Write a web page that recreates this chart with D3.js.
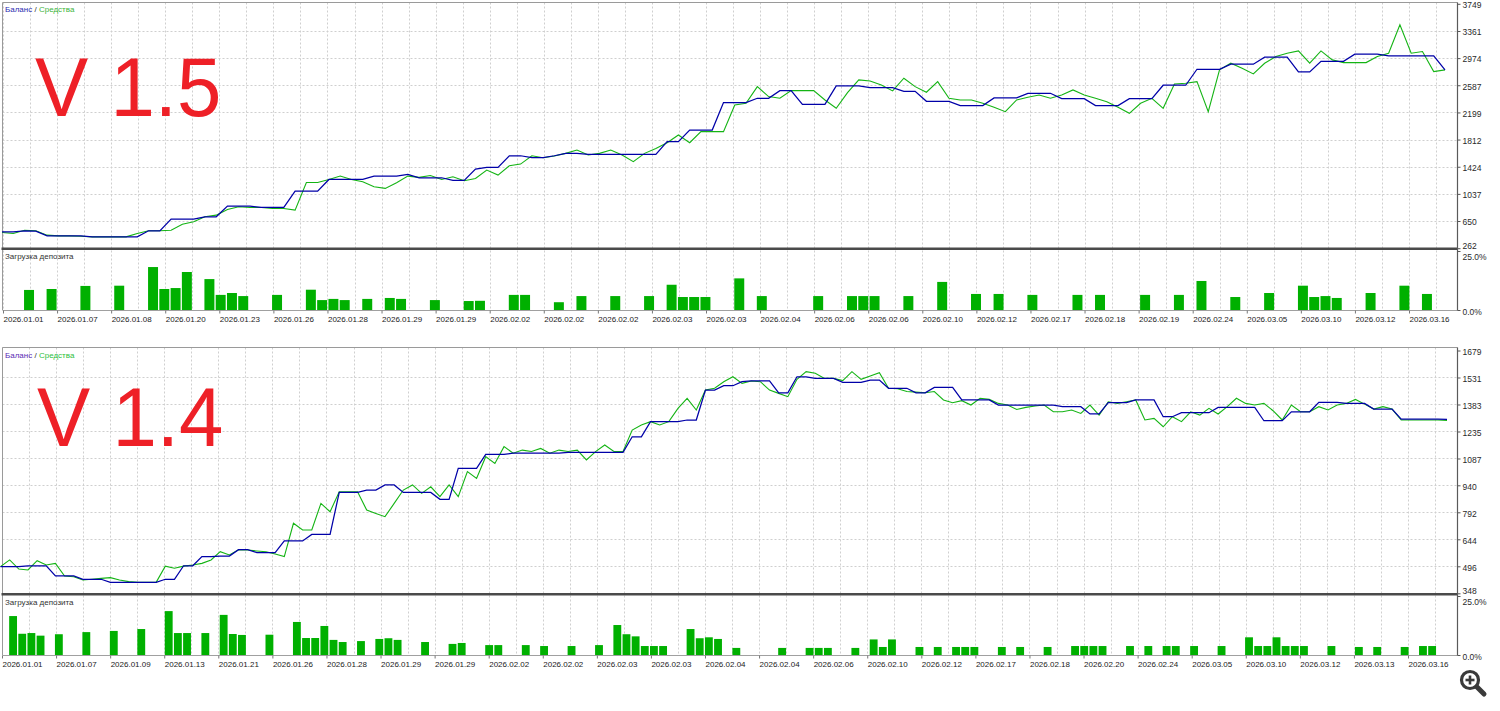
<!DOCTYPE html>
<html><head><meta charset="utf-8">
<script src="https://cdn.jsdelivr.net/npm/d3@7"></script>
<style>
body{margin:0;background:#fff;}
svg{display:block;}
text{font-family:"Liberation Sans",Arial,sans-serif;}
</style>
</head><body>
<svg id="c" width="1500" height="711"></svg>
<script>
// ---------------- DATA ----------------
const topXLabels = ["2026.01.01","2026.01.07","2026.01.08","2026.01.20","2026.01.23","2026.01.26","2026.01.28","2026.01.29","2026.01.29","2026.02.02","2026.02.02","2026.02.02","2026.02.03","2026.02.03","2026.02.04","2026.02.06","2026.02.06","2026.02.10","2026.02.12","2026.02.17","2026.02.18","2026.02.19","2026.02.24","2026.03.05","2026.03.10","2026.03.12","2026.03.16"];
const topYTicks = [262,650,1037,1424,1812,2199,2587,2974,3361,3749];
const topBalance = [
495,495,510,505,438,438,438,438,424,424,
424,424,424,510,510,676,676,676,710,710,
862,862,862,843,843,843,1077,1077,1077,1243,
1243,1243,1243,1291,1291,1291,1315,1267,1267,1267,
1229,1229,1391,1415,1415,1581,1581,1553,1553,1581,
1615,1615,1600,1600,1600,1600,1600,1600,1600,1782,
1782,1948,1948,1948,2339,2339,2339,2401,2401,2510,
2510,2315,2315,2315,2577,2577,2577,2553,2553,2553,
2501,2501,2358,2358,2358,2296,2296,2296,2406,2406,
2406,2472,2472,2472,2396,2396,2396,2296,2296,2296,
2396,2396,2396,2587,2587,2587,2815,2815,2815,2887,
2887,2887,2987,2987,2987,2777,2777,2929,2929,2929,
3030,3030,3030,3006,3006,3006,3006,3006,2806];
const topEquity = [
486,472,519,510,448,438,438,433,424,424,
424,424,472,510,510,519,605,638,710,734,
815,853,843,843,829,829,805,1200,1200,1243,
1291,1243,1210,1138,1115,1196,1291,1272,1300,1243,
1281,1224,1257,1377,1305,1439,1462,1581,1553,1577,
1615,1662,1591,1615,1662,1591,1496,1615,1686,1767,
1877,1767,1925,1925,1925,2305,2329,2567,2425,2401,
2510,2510,2510,2377,2258,2482,2663,2648,2591,2506,
2687,2567,2487,2639,2401,2377,2377,2329,2272,2210,
2377,2415,2448,2401,2448,2520,2448,2401,2353,2272,
2186,2329,2401,2258,2606,2615,2639,2210,2806,2901,
2829,2749,2901,2996,3044,3077,2901,3077,2949,2910,
2910,2910,2996,3044,3449,3044,3068,2782,2806];
const topLoadIdx = [2,4,7,10,13,14,15,16,18,19,20,21,24,27,28,29,30,32,34,35,38,41,42,
45,46,49,51,54,57,59,60,61,62,65,67,72,75,76,77,80,83,86,88,
91,95,97,101,104,106,109,112,115,116,117,118,121,124,126];
const topLoadVal = [8.5,8.9,10.2,10.3,18.2,8.9,9.3,16.1,13.1,6.4,7.2,5.9,6.4,8.6,4.2,4.7,4.2,4.7,5.1,4.7,4.2,3.8,3.9,
6.4,6.4,3.3,5.9,5.9,5.9,10.7,5.5,5.5,5.5,13.4,5.9,5.9,5.9,5.9,5.9,5.9,11.9,6.8,6.8,
6.4,6.4,6.4,6.4,6.4,12.3,5.5,7.2,10.3,5.5,5.9,5.1,7.2,10.3,6.8];

const botXLabels = ["2026.01.01","2026.01.07","2026.01.09","2026.01.13","2026.01.21","2026.01.26","2026.01.28","2026.01.29","2026.01.29","2026.02.02","2026.02.02","2026.02.03","2026.02.03","2026.02.04","2026.02.04","2026.02.06","2026.02.10","2026.02.12","2026.02.17","2026.02.18","2026.02.20","2026.02.24","2026.03.05","2026.03.10","2026.03.12","2026.03.13","2026.03.16"];
const botYTicks = [348,496,644,792,940,1087,1235,1383,1531,1679];
const botBalance = [
494,494,494,499,499,499,443,443,443,425,
425,425,408,408,408,408,408,408,425,425,
499,499,549,549,552,552,587,587,571,571,
571,635,635,635,671,671,671,901,901,901,
914,914,942,942,901,901,901,901,863,863,
1033,1033,1033,1110,1110,1110,1116,1116,1116,1116,
1116,1116,1121,1121,1121,1121,1121,1121,1121,1206,
1206,1289,1289,1289,1289,1298,1298,1462,1462,1486,
1486,1508,1512,1512,1512,1447,1447,1535,1535,1526,
1526,1526,1504,1504,1504,1517,1517,1472,1472,1472,
1447,1447,1477,1477,1477,1408,1408,1408,1408,1380,
1380,1380,1380,1380,1380,1380,1371,1371,1371,1331,
1331,1393,1393,1393,1408,1408,1408,1316,1316,1338,
1338,1338,1338,1367,1367,1367,1367,1367,1294,1294,
1294,1343,1343,1343,1395,1395,1395,1389,1389,1389,
1358,1358,1358,1303,1303,1303,1303,1303,1302];
const botEquity = [
494,531,481,476,527,503,512,443,439,421,
425,430,434,421,412,408,408,408,497,485,
497,503,512,531,576,558,587,585,580,576,
563,549,732,695,695,841,795,905,905,905,
804,786,768,841,914,942,896,932,878,942,
878,1015,978,1097,1060,1152,1116,1133,1125,1142,
1116,1133,1125,1133,1079,1125,1161,1125,1125,1243,
1271,1289,1271,1289,1362,1417,1353,1462,1472,1508,
1535,1499,1512,1508,1462,1444,1426,1521,1563,1554,
1526,1526,1514,1563,1521,1539,1557,1472,1469,1454,
1451,1447,1454,1408,1393,1404,1380,1417,1411,1389,
1380,1356,1367,1375,1380,1343,1343,1353,1334,1380,
1325,1398,1389,1398,1408,1298,1307,1261,1316,1289,
1343,1325,1362,1331,1371,1417,1389,1380,1389,1349,
1298,1380,1343,1343,1371,1353,1380,1389,1411,1385,
1358,1371,1358,1298,1298,1298,1298,1298,1296];
const botLoadIdx = [1,2,3,4,6,9,12,15,18,19,20,22,24,25,26,29,32,33,34,35,36,37,39,41,42,43,46,49,50,53,54,
57,59,62,65,67,68,69,70,71,72,75,76,77,78,80,85,88,89,90,93,95,96,97,100,102,104,105,106,109,
111,114,117,118,119,120,123,125,127,128,130,133,136,137,138,139,140,141,142,145,148,150,153,155,156];
const botLoadVal = [16.5,9.0,9.3,8.2,8.8,9.7,10.2,11.0,18.6,9.3,9.3,9.3,17.0,8.9,8.5,8.6,14.0,7.2,7.2,12.3,6.4,5.5,5.9,6.8,7.1,6.4,5.5,4.7,5.1,4.2,4.2,
4.2,3.8,3.8,4.2,12.7,8.8,7.9,3.8,3.8,3.8,11.0,7.1,7.5,6.8,3.0,3.0,3.0,3.0,3.0,3.0,6.6,3.4,6.6,3.4,3.4,3.4,3.4,3.4,3.4,
3.4,3.4,3.8,3.8,3.8,3.8,3.8,3.8,3.8,3.8,3.8,3.8,7.5,3.8,3.8,7.5,3.8,3.8,3.8,3.8,3.4,3.4,3.4,3.8,3.8];

const loadTicks = [0, 25];
const legendBalance = "Баланс";
const legendEquity = "Средства";
const loadTitle = "Загрузка депозита";

// ---------------- LAYOUT ----------------
const panels = [
  {title:"V 1.5", titleX:35, titleY:116, legendY:12, legendBal:"#2b2bb0", legendEq:"#3cb43c",
   frameTop:2.5, yTop:3.8, yBot:248.2, sepY:248.8, subBot:310, loadTop:251, subLabelY:259, xLabelY:320,
   xRange:[2,1445], labelRange:[3,1409],
   labels:topXLabels, yTicks:topYTicks, bal:topBalance, eq:topEquity, lIdx:topLoadIdx, lVal:topLoadVal},
  {title:"V 1.4", titleX:37, titleY:446, legendY:357.5, legendBal:"#5a2ab4", legendEq:"#2cc03c",
   frameTop:347.5, yTop:350.5, yBot:593.3, sepY:594.3, subBot:655, loadTop:596, subLabelY:605, xLabelY:665,
   xRange:[0.5,1447], labelRange:[2,1408],
   labels:botXLabels, yTicks:botYTicks, bal:botBalance, eq:botEquity, lIdx:botLoadIdx, lVal:botLoadVal}
];
const LEFT = 2.5, RIGHT = 1457.5;

const svg = d3.select("#c");

panels.forEach(p => {
  const g = svg.append("g");
  const n = p.bal.length;
  const x = d3.scaleLinear().domain([0, n-1]).range(p.xRange);
  const y = d3.scaleLinear().domain([p.yTicks[0], p.yTicks[p.yTicks.length-1]]).range([p.yBot, p.yTop]);
  const ly = d3.scaleLinear().domain([0,25]).range([p.subBot, p.loadTop]);
  const lx = d3.scalePoint().domain(d3.range(p.labels.length)).range(p.labelRange);
  const step = x(1) - x(0);

  // vertical grid (ticks + midpoints)
  const half = lx.step()/2;
  const vg = [];
  lx.domain().forEach(k => { vg.push(lx(k)); if (lx(k)+half < RIGHT-2) vg.push(lx(k)+half); });
  g.append("g").selectAll("line").data(vg).join("line")
    .attr("x1", d=>Math.round(d)+0.5).attr("x2", d=>Math.round(d)+0.5)
    .attr("y1", p.frameTop).attr("y2", p.subBot)
    .attr("stroke","#cfcfcf").attr("stroke-dasharray","2,2").attr("stroke-width",1);

  // horizontal grid
  g.append("g").selectAll("line").data(p.yTicks.slice(1, -1)).join("line")
    .attr("x1", LEFT).attr("x2", RIGHT)
    .attr("y1", d=>Math.round(y(d))+0.5).attr("y2", d=>Math.round(y(d))+0.5)
    .attr("stroke","#cfcfcf").attr("stroke-dasharray","2,2").attr("stroke-width",1);

  // frame
  g.append("line").attr("x1",LEFT).attr("x2",RIGHT).attr("y1",p.frameTop).attr("y2",p.frameTop).attr("stroke","#9a9a9a");
  g.append("line").attr("x1",LEFT).attr("x2",LEFT).attr("y1",p.frameTop).attr("y2",p.subBot).attr("stroke","#9a9a9a");
  g.append("line").attr("x1",LEFT).attr("x2",RIGHT).attr("y1",p.subBot+0.5).attr("y2",p.subBot+0.5).attr("stroke","#a0a0a0");

  // title
  g.append("text").attr("transform",`translate(${p.titleX},${p.titleY}) scale(0.95,1)`).text(p.title)
    .attr("font-size",84).attr("fill","#ee2027");

  // lines
  const line = d3.line().x((d,i)=>x(i)).y(d=>y(d));
  g.append("path").datum(p.eq).attr("d",line).attr("fill","none").attr("stroke","#14b414").attr("stroke-width",1.1);
  g.append("path").datum(p.bal).attr("d",line).attr("fill","none").attr("stroke","#0000a8").attr("stroke-width",1.25);

  // separator
  g.append("line").attr("x1",LEFT-1).attr("x2",RIGHT).attr("y1",p.sepY).attr("y2",p.sepY)
    .attr("stroke","#4a4a4a").attr("stroke-width",2.6);

  // load bars
  const bars = p.lIdx.map((j,k)=>({j, v:p.lVal[k]}));
  g.append("g").selectAll("rect").data(bars).join("rect")
    .attr("x", d=>x(d.j)-0.5).attr("width", step-1.3)
    .attr("y", d=>ly(d.v)).attr("height", d=>ly(0)-ly(d.v))
    .attr("fill","#00b000");

  // right axes
  const minTick = p.yTicks[0];
  const ya = g.append("g").attr("transform",`translate(${RIGHT},0)`)
    .call(d3.axisRight(y).tickValues(p.yTicks).tickSize(3).tickPadding(2).tickFormat(d3.format("d")));
  ya.select(".domain").remove();
  ya.selectAll("line").attr("stroke","#555");
  ya.selectAll("text").attr("font-size",8.5).attr("fill","#2a2a2a").attr("font-family","Liberation Sans, Arial, sans-serif")
    .attr("dy", d => d===minTick ? "0.05em" : "0.45em");

  const la = g.append("g").attr("transform",`translate(${RIGHT},0)`)
    .call(d3.axisRight(ly).tickValues(loadTicks).tickSize(3).tickPadding(2).tickFormat(d=>d.toFixed(1)+"%"));
  la.select(".domain").remove();
  la.selectAll("line").attr("stroke","#555");
  la.selectAll("text").attr("font-size",8.5).attr("fill","#2a2a2a").attr("font-family","Liberation Sans, Arial, sans-serif")
    .attr("dy", d => d===25 ? "0.98em" : "0.5em");

  g.append("line").attr("x1",RIGHT).attr("x2",RIGHT).attr("y1",p.frameTop).attr("y2",p.subBot+0.5)
    .attr("stroke","#5a5a5a").attr("stroke-width",1.2);

  // bottom axis labels
  const xa = g.append("g").attr("transform",`translate(0,${p.subBot+0.5})`)
    .call(d3.axisBottom(lx).tickSize(3).tickPadding(1).tickFormat(k=>p.labels[k]));
  xa.select(".domain").remove();
  xa.selectAll("line").attr("stroke","#777");
  xa.selectAll("text").attr("text-anchor","start").attr("font-size",8).attr("fill","#1a1a1a")
    .attr("font-family","Liberation Sans, Arial, sans-serif").attr("dy","0.9em").attr("x",0);

  // legend
  const lg = g.append("text").attr("x",5).attr("y",p.legendY).attr("font-size",8);
  lg.append("tspan").text(legendBalance).attr("fill",p.legendBal);
  lg.append("tspan").text(" / ").attr("fill","#333");
  lg.append("tspan").text(legendEquity).attr("fill",p.legendEq);

  g.append("text").attr("x",5).attr("y",p.subLabelY).attr("font-size",8).attr("fill","#333").text(loadTitle);
});

// magnifier icon
const ic = svg.append("g").attr("transform","translate(1470,680)");
ic.append("line").attr("x1",6).attr("y1",6).attr("x2",14).attr("y2",14).attr("stroke","#3a3a3a").attr("stroke-width",5).attr("stroke-linecap","round");
ic.append("circle").attr("r",8.5).attr("fill","#fff").attr("stroke","#3a3a3a").attr("stroke-width",3.2);
ic.append("line").attr("x1",-4.5).attr("x2",4.5).attr("y1",0).attr("y2",0).attr("stroke","#3a3a3a").attr("stroke-width",2.6);
ic.append("line").attr("y1",-4.5).attr("y2",4.5).attr("x1",0).attr("x2",0).attr("stroke","#3a3a3a").attr("stroke-width",2.6);
</script>
</body></html>
